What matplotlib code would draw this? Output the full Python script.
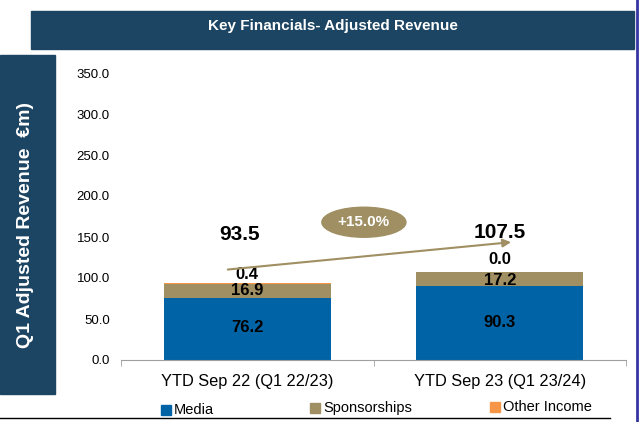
import matplotlib.pyplot as plt
import matplotlib.patches as mpatches
import numpy as np

plt.rcParams['font.family'] = ['Liberation Sans', 'DejaVu Sans']

categories = ['YTD Sep 22 (Q1 22/23)', 'YTD Sep 23 (Q1 23/24)']
media = [76.2, 90.3]
sponsorships = [16.9, 17.2]
other_income = [0.4, 0.0]
totals = [93.5, 107.5]
growth = '+15.0%'
yticks = [0, 50, 100, 150, 200, 250, 300, 350]
legend_names = ['Media', 'Sponsorships', 'Other Income']

c_media = '#0063a6'
c_spons = '#a08f62'
c_other = '#f79646'
navy = '#1c4563'
W, H = 639, 422

fig = plt.figure(figsize=(W / 100, H / 100), dpi=100)

# header bar and side label box
fig.patches.append(mpatches.Rectangle((31/W, 1-49/H), 603/W, 38/H,
                                      transform=fig.transFigure, color=navy, zorder=0))
fig.text(333/W, 1-26/H, 'Key Financials- Adjusted Revenue', color='white',
         fontsize=11, fontweight='bold', ha='center', va='center')
fig.patches.append(mpatches.Rectangle((0, 1-394/H), 55/W, 339/H,
                                      transform=fig.transFigure, color=navy, zorder=0))
fig.text(26/W, 1-225/H, 'Q1 Adjusted Revenue  \u20acm)', color='white',
         fontsize=14, fontweight='bold', rotation=90, ha='center', va='center')

# frame lines
fig.add_artist(plt.Line2D([637/W, 637/W], [0, 1], color='#3535a5', lw=2))
fig.add_artist(plt.Line2D([0, 610/W], [4/H, 4/H], color='black', lw=1))

ax = fig.add_axes([121/W, 62/H, 505/W, 287/H])
x = np.arange(len(categories))
w = 0.66
ax.bar(x, media, w, color=c_media, zorder=2)
ax.bar(x, sponsorships, w, bottom=media, color=c_spons, zorder=2)
bottom2 = [m + s for m, s in zip(media, sponsorships)]
ax.bar(x, other_income, w, bottom=bottom2, color=c_other, zorder=2)

lab = dict(ha='center', va='center', fontsize=12, fontweight='bold')
ax.text(x[0], media[0] - 37, f'{media[0]:.1f}', **lab)
ax.text(x[1], media[1] - 45, f'{media[1]:.1f}', **lab)
ax.text(x[0], bottom2[0] - 8, f'{sponsorships[0]:.1f}', **lab)
ax.text(x[1], bottom2[1] - 10, f'{sponsorships[1]:.1f}', **lab)
ax.text(x[0], bottom2[0] + 11, f'{other_income[0]:.1f}', **lab)
ax.text(x[1], bottom2[1] + 15, f'{other_income[1]:.1f}', **lab)
ax.text(x[0] - 0.03, totals[0] + 59, f'{totals[0]:.1f}', ha='center', va='center',
        fontsize=15, fontweight='bold')
ax.text(x[1] + 0.0, totals[1] + 48, f'{totals[1]:.1f}', ha='center', va='center',
        fontsize=15, fontweight='bold')

# growth arrow and bubble
ax.annotate('', xy=(1.056, 144), xytext=(-0.088, 110),
            arrowprops=dict(arrowstyle='-|>', color=c_spons, lw=1.5, mutation_scale=12))
ax.add_patch(mpatches.Ellipse((0.462, 168), 0.333, 36.6, color=c_spons, zorder=3))
ax.text(0.462, 168, growth, color='white', fontsize=11, fontweight='bold',
        ha='center', va='center', zorder=4)

ax.set_xlim(-0.5, 1.5)
ax.set_ylim(0, 350)
ax.set_yticks(yticks)
ax.set_yticklabels([f'{v:.1f}' for v in yticks], fontsize=9.5)
ax.tick_params(axis='y', length=0, pad=8)
ax.set_xticks(x)
ax.set_xticklabels(categories, fontsize=11.8)
ax.tick_params(axis='x', length=0, pad=10)
ax.set_xticks([-0.5, 0.5, 1.5], minor=True)
ax.tick_params(axis='x', which='minor', length=4, color='#a0a0a0', direction='out')
for s in ['top', 'right', 'left']:
    ax.spines[s].set_visible(False)
ax.spines['bottom'].set_color('#a0a0a0')

# legend placed item by item like the source slide
leg_x = [161, 310, 490]
leg_y = [410, 408, 407]
for name, col, lx, ly in zip(legend_names, [c_media, c_spons, c_other], leg_x, leg_y):
    fig.patches.append(mpatches.Rectangle((lx/W, 1-(ly+5)/H), 10/W, 10/H,
                                          transform=fig.transFigure, color=col))
    fig.text((lx+13)/W, 1-ly/H, name, fontsize=10.5, ha='left', va='center')

plt.savefig('out.png', dpi=100)
